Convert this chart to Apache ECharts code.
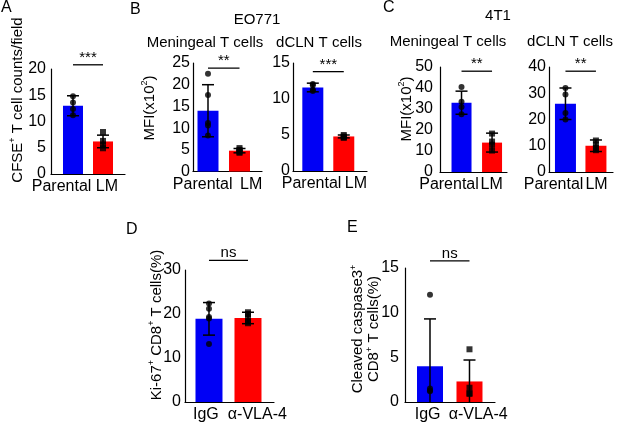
<!DOCTYPE html>
<html><head><meta charset="utf-8">
<script src="https://cdn.jsdelivr.net/npm/echarts@6/dist/echarts.min.js"></script>
<style>html,body{margin:0;padding:0;background:#fff}#c{width:617px;height:422px}</style>
</head><body><div id="c"></div>
<script>
// ---------- data ----------
const catsTumor = ['Parental', 'LM'];
const catsTreat = ['IgG', 'α-VLA-4'];

// A: CFSE+ T cell counts/field
const meanA = [13.0, 6.2];
const sdA = [1.9, 1.2];
const ptsA_parental = [14.8, 13.6, 12.4, 11.2];
const ptsA_LM = [8.0, 6.3, 5.6, 4.9];
const sigA = '***';

// B: EO771 meningeal T cells MFI (x10^2)
const meanB1 = [14.0, 4.8];
const sdB1 = [6.0, 0.5];
const ptsB1_parental = [22.5, 17.6, 11.2, 10.6, 8.3];
const ptsB1_LM = [5.4, 5.0, 4.8, 4.5, 4.3];
const sigB1 = '**';

// B: EO771 dCLN T cells MFI (x10^2)
const meanB2 = [11.6, 4.8];
const sdB2 = [0.6, 0.2];
const ptsB2_parental = [12.1, 11.9, 11.3, 11.1];
const ptsB2_LM = [5.0, 4.8, 4.7, 4.6];
const sigB2 = '***';

// C: 4T1 meningeal T cells MFI (x10^2)
const meanC1 = [33.0, 14.0];
const sdC1 = [5.5, 4.5];
const ptsC1_parental = [40.5, 33.5, 31.0, 27.5];
const ptsC1_LM = [18.3, 14.5, 13.0, 10.2];
const sigC1 = '**';

// C: 4T1 dCLN T cells MFI (x10^2)
const meanC2 = [26.0, 10.0];
const sdC2 = [6.0, 2.2];
const ptsC2_parental = [32.0, 29.5, 22.5, 20.0];
const ptsC2_LM = [12.0, 10.5, 9.2, 8.3];
const sigC2 = '**';

// D: Ki-67+ CD8+ T cells (%)
const meanD = [18.9, 19.1];
const sdD = [3.7, 1.3];
const ptsD_IgG = [22.4, 21.2, 19.3, 19.0, 13.2];
const ptsD_VLA4 = [20.4, 20.0, 19.2, 18.3, 17.9];
const sigD = 'ns';

// E: Cleaved caspase3+ CD8+ T cells (%)
const meanE = [4.0, 2.3];
const sdE = [5.3, 2.4];
const ptsE_IgG = [12.0, 1.5, 1.3, 1.2];
const ptsE_VLA4 = [5.9, 1.6, 1.0, 0.9];
const sigE = 'ns';

// ---------- layout ----------
const FONT = '"Liberation Sans", Arial, sans-serif';
const BLUE = '#0000f5', RED = '#ff0000';

const panels = [
  {cats: catsTumor, mean: meanA, sd: sdA, pts: [ptsA_parental, ptsA_LM], sig: sigA, sigLevel: 20.8,
   yMax: 20, yInt: 5, grid: {left: 51, top: 69, width: 74, height: 105}, xMin: -0.733, xMax: 1.733,
   labelPos: [-0.38, 1.13], barWidth: 20, yMargin: 5},
  {cats: catsTumor, mean: meanB1, sd: sdB1, pts: [ptsB1_parental, ptsB1_LM], sig: sigB1, sigLevel: 23.8,
   yMax: 25, yInt: 5, grid: {left: 193, top: 63, width: 69, height: 108.5}, xMin: -0.476, xMax: 1.714,
   labelPos: [-0.17, 1.37], barWidth: 21, yMargin: 3},
  {cats: catsTumor, mean: meanB2, sd: sdB2, pts: [ptsB2_parental, ptsB2_LM], sig: sigB2, sigLevel: 13.8,
   yMax: 15, yInt: 5, grid: {left: 293, top: 63, width: 74, height: 108}, xMin: -0.64, xMax: 1.75,
   labelPos: [-0.04, 1.39], barWidth: 21, yMargin: 3},
  {cats: catsTumor, mean: meanC1, sd: sdC1, pts: [ptsC1_parental, ptsC1_LM], sig: sigC1, sigLevel: 48,
   yMax: 50, yInt: 10, grid: {left: 440, top: 67, width: 67, height: 105}, xMin: -0.705, xMax: 1.49,
   labelPos: [-0.41, 0.99], barWidth: 20, yMargin: 7},
  {cats: catsTumor, mean: meanC2, sd: sdC2, pts: [ptsC2_parental, ptsC2_LM], sig: sigC2, sigLevel: 38.4,
   yMax: 40, yInt: 10, grid: {left: 549, top: 67, width: 64, height: 105}, xMin: -0.54, xMax: 1.56,
   labelPos: [-0.39, 1.02], barWidth: 21, yMargin: 3},
  {cats: catsTreat, mean: meanD, sd: sdD, pts: [ptsD_IgG, ptsD_VLA4], sig: sigD, sigLevel: 32.2,
   yMax: 30, yInt: 10, grid: {left: 185, top: 270, width: 89, height: 132}, xMin: -0.615, xMax: 1.667,
   labelPos: [-0.08, 1.24], barWidth: 27, yMargin: 4},
  {cats: catsTreat, mean: meanE, sd: sdE, pts: [ptsE_IgG, ptsE_VLA4], sig: sigE, sigLevel: 15.8,
   yMax: 15, yInt: 5, grid: {left: 405, top: 268, width: 90, height: 134}, xMin: -0.633, xMax: 1.646,
   labelPos: [-0.06, 1.22], barWidth: 26, yMargin: 6}
];

const colors = [BLUE, RED];
const symbols = ['circle', 'rect'];

function errRender(params, api) {
  const x = api.value(0), lo = api.value(1), hi = api.value(2);
  const pHi = api.coord([x, hi]), pLo = api.coord([x, lo]);
  const hw = 6;
  const st = {stroke: '#000', lineWidth: 1.5};
  const ch = [
    {type: 'line', shape: {x1: pHi[0], y1: pHi[1], x2: pLo[0], y2: pLo[1]}, style: st},
    {type: 'line', shape: {x1: pHi[0] - hw, y1: pHi[1], x2: pHi[0] + hw, y2: pHi[1]}, style: st}
  ];
  if (lo > 0) ch.push({type: 'line', shape: {x1: pLo[0] - hw, y1: pLo[1], x2: pLo[0] + hw, y2: pLo[1]}, style: st});
  return {type: 'group', children: ch};
}

function sigRender(label) {
  return function (params, api) {
    const a = api.coord([api.value(0), api.value(2)]);
    const b = api.coord([api.value(1), api.value(2)]);
    return {type: 'group', children: [
      {type: 'line', shape: {x1: a[0], y1: a[1], x2: b[0], y2: b[1]}, style: {stroke: '#000', lineWidth: 1.3}},
      {type: 'text', x: (a[0] + b[0]) / 2, y: a[1] - 7,
       style: {text: label, fill: '#000', font: '15px ' + FONT, align: 'center', verticalAlign: 'middle',
               textAlign: 'center', textVerticalAlign: 'middle'}}
    ]};
  };
}

const grids = [], xAxes = [], yAxes = [], series = [];
panels.forEach((p, i) => {
  grids.push(Object.assign({outerBoundsMode: 'none', containLabel: false}, p.grid));
  xAxes.push({
    type: 'value', gridIndex: i, min: p.xMin, max: p.xMax,
    axisLine: {show: true, onZero: false, lineStyle: {color: '#000', width: 1.2}},
    axisTick: {show: false}, splitLine: {show: false},
    axisLabel: {
      customValues: p.labelPos, margin: 5, color: '#000', fontSize: 16, fontFamily: FONT,
      formatter: (v) => { const k = p.labelPos.indexOf(v); return k >= 0 ? p.cats[k] : ''; }
    }
  });
  yAxes.push({
    type: 'value', gridIndex: i, min: 0, max: p.yMax, interval: p.yInt,
    axisLine: {show: true, onZero: false, lineStyle: {color: '#000', width: 1.2}},
    axisTick: {show: false}, splitLine: {show: false},
    axisLabel: {margin: p.yMargin, color: '#000', fontSize: 16, fontFamily: FONT}
  });
  series.push({
    type: 'bar', xAxisIndex: i, yAxisIndex: i, barWidth: p.barWidth, z: 2,
    data: p.mean.map((v, k) => ({value: [k, v], itemStyle: {color: colors[k]}})),
    animation: false
  });
  series.push({
    type: 'custom', xAxisIndex: i, yAxisIndex: i, z: 3, renderItem: errRender,
    data: p.mean.map((v, k) => [k, Math.max(0, v - p.sd[k]), v + p.sd[k]]),
    animation: false, clip: false
  });
  p.pts.forEach((arr, k) => {
    series.push({
      type: 'scatter', xAxisIndex: i, yAxisIndex: i, z: 4, symbol: symbols[k], symbolSize: 6,
      itemStyle: {color: '#000'}, data: arr.map(v => [k, v]), animation: false
    });
  });
  series.push({
    type: 'custom', xAxisIndex: i, yAxisIndex: i, z: 5, renderItem: sigRender(p.sig),
    data: [[0, 1, p.sigLevel]], animation: false, clip: false
  });
});

function txt(text, x, y, size, opts) {
  opts = opts || {};
  return {
    type: 'text', x: x, y: y, rotation: opts.rot || 0, z: 10,
    style: Object.assign({
      text: text, fill: '#000', font: size + 'px ' + FONT,
      align: opts.align || 'center', verticalAlign: 'middle',
      textAlign: opts.align || 'center', textVerticalAlign: 'middle',
      lineHeight: opts.lh || size + 2,
      rich: {
        n: {fontSize: size, fontFamily: FONT, fill: '#000', verticalAlign: 'bottom', lineHeight: opts.lh || size + 2},
        sup: {fontSize: Math.round(size * 0.62), fontFamily: FONT, fill: '#000', verticalAlign: 'top', lineHeight: opts.lh || size + 2}
      }
    })
  };
}
const R = Math.PI / 2;
const graphics = [
  txt('A', 1, 8, 16, {align: 'left'}),
  txt('B', 130, 10, 16, {align: 'left'}),
  txt('C', 383, 8, 16, {align: 'left'}),
  txt('D', 126, 230, 16, {align: 'left'}),
  txt('E', 347, 228, 16, {align: 'left'}),
  txt('EO771', 257, 20, 15),
  txt('4T1', 498, 16, 15),
  txt('Meningeal T cells', 205, 43, 15),
  txt('dCLN T cells', 319, 43, 15),
  txt('Meningeal T cells', 448, 42, 15),
  txt('dCLN T cells', 570, 42, 15),
  txt('{n|CFSE}{sup|+}{n| T cell counts/field}', 17, 100, 15, {rot: R}),
  txt('{n|MFI(x10}{sup|2}{n|)}', 149, 108, 15, {rot: R}),
  txt('{n|MFI(x10}{sup|2}{n|)}', 406, 109, 15, {rot: R}),
  txt('{n|Ki-67}{sup|+}{n| CD8}{sup|+}{n| T cells(%)}', 156, 325, 15, {rot: R}),
  txt('{n|Cleaved caspase3}{sup|+}\n{n|CD8}{sup|+}{n| T cells(%)}', 365, 329, 15, {rot: R, lh: 16})
];

const chart = echarts.init(document.getElementById('c'), null, {renderer: 'canvas'});
chart.setOption({
  animation: false,
  backgroundColor: '#fff',
  grid: grids, xAxis: xAxes, yAxis: yAxes, series: series,
  graphic: graphics
});
</script></body></html>
